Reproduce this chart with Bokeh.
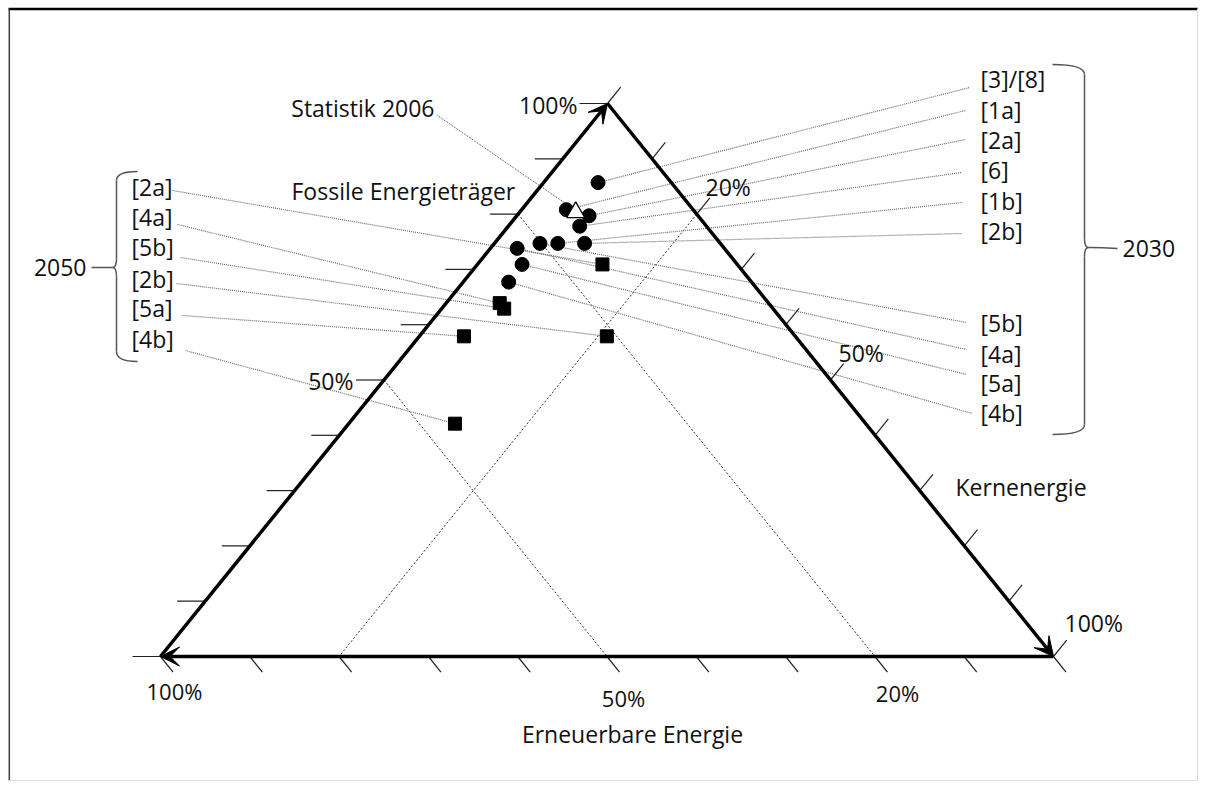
import numpy as np
from bokeh.plotting import figure
from bokeh.models import Range1d, Arrow, VeeHead, ColumnDataSource
from bokeh.embed import file_html
from bokeh.resources import INLINE
from bokeh.core.properties import value

# ---------------- data (shares in percent; renewable = 100 - fossil - nuclear) ----------------
labels_2030 = ["[3]/[8]", "[1a]", "[2a]", "[6]", "[1b]", "[2b]", "[5b]", "[4a]", "[5a]", "[4b]"]
fossil_2030 = [85.7, 80.8, 79.7, 77.8, 74.7, 74.7, 74.7, 73.8, 70.9, 67.7]
nuclear_2030 = [6.1, 5.0, 8.1, 8.0, 7.1, 10.1, 5.1, 3.0, 5.0, 5.1]

labels_2050 = ["[2a]", "[4a]", "[5b]", "[2b]", "[5a]", "[4b]"]
fossil_2050 = [70.9, 63.9, 62.9, 57.9, 57.9, 42.1]
nuclear_2050 = [14.0, 6.0, 7.0, 21.0, 5.0, 11.9]

label_2006 = "Statistik 2006"
fossil_2006 = [80.5]
nuclear_2006 = [6.2]

tick_values = list(range(0, 101, 10))
axis_titles = ["Fossile Energieträger", "Kernenergie", "Erneuerbare Energie"]
group_titles = ["2030", "2050"]
grid_nuclear = [20]
grid_renewable = [50, 20]
fossil_tick_labels = ["100%", "50%"]
nuclear_tick_labels = ["20%", "50%", "100%"]
renewable_tick_labels = ["100%", "50%", "20%"]

# ---------------- layout ----------------
W, H = 1198, 781
V_REN = np.array([160.0, 656.0])   # bottom left  (100 % renewable)
V_NUC = np.array([1053.0, 656.0])  # bottom right (100 % nuclear)
V_FOS = np.array([607.0, 103.0])   # apex         (100 % fossil)
FONT = value("Open Sans")
TXT = "#111111"


def tern(f, k):
    f = np.asarray(f, dtype=float) / 100.0
    k = np.asarray(k, dtype=float) / 100.0
    r = 1.0 - f - k
    x = r * V_REN[0] + k * V_NUC[0] + f * V_FOS[0]
    y = r * V_REN[1] + k * V_NUC[1] + f * V_FOS[1]
    return x, y


def unit(v):
    v = np.asarray(v, dtype=float)
    return v / np.hypot(*v)


p = figure(width=W, height=H, x_range=Range1d(0, W), y_range=Range1d(H, 0),
           output_backend="svg", toolbar_location=None, min_border=0)
p.axis.visible = False
p.grid.visible = False
p.outline_line_color = None
p.background_fill_color = "white"
p.border_fill_color = "white"

# frame
p.segment(x0=[8, 8.8, W - 1, 8], y0=[8.5, 8, 8, H - 1],
          x1=[W, 8.8, W - 1, W], y1=[8.5, H, H, H - 1],
          line_color=["black", "#404040", "#dddddd", "#dddddd"], line_width=[2.5, 1.5, 1, 1])

# dotted grid lines
gx0, gy0, gx1, gy1 = [], [], [], []
for k in grid_nuclear:
    a = tern(100 - k, k); b = tern(0, k)
    gx0.append(a[0]); gy0.append(a[1]); gx1.append(b[0]); gy1.append(b[1])
for r in grid_renewable:
    a = tern(100 - r, 0); b = tern(0, 100 - r)
    gx0.append(a[0]); gy0.append(a[1]); gx1.append(b[0]); gy1.append(b[1])
p.segment(x0=gx0, y0=gy0, x1=gx1, y1=gy1, line_color="#333333", line_width=1, line_dash="2 2")

# leader lines 2030 (right labels)
end_2030 = [(969, 87), (965, 110), (965, 139), (961, 172), (962, 202), (962, 233),
            (966, 322), (966, 349), (966, 374), (972, 413)]
x30, y30 = tern(fossil_2030, nuclear_2030)
p.segment(x0=x30, y0=y30, x1=[e[0] for e in end_2030], y1=[e[1] for e in end_2030],
          line_color="#6a6a6a", line_width=1.2, line_dash="1 1")

# leader lines 2050 (left labels)
start_2050 = [(172, 190), (177, 224), (180, 257), (176, 283), (182, 315), (185, 350)]
x50, y50 = tern(fossil_2050, nuclear_2050)
p.segment(x0=[s[0] for s in start_2050], y0=[s[1] for s in start_2050], x1=x50, y1=y50,
          line_color="#6a6a6a", line_width=1.2, line_dash="1 1")

# leader 2006
x06, y06 = tern(fossil_2006, nuclear_2006)
p.segment(x0=[437], y0=[115], x1=[x06[0] - 6], y1=[y06[0] - 5],
          line_color="#444444", line_width=1, line_dash="1 1")

# ticks
tx0, ty0, tx1, ty1 = [], [], [], []
d_nuc = unit(V_FOS - V_REN) * 21
d_ren = unit(V_NUC - V_FOS) * 20
for t in tick_values:
    x, y = tern(t, 0)            # fossil axis (left edge), horizontal ticks
    tx0.append(x - 28); ty0.append(y); tx1.append(x); ty1.append(y)
    x, y = tern(100 - t, t)      # nuclear axis (right edge)
    tx0.append(x); ty0.append(y); tx1.append(x + d_nuc[0]); ty1.append(y + d_nuc[1])
    x, y = tern(0, 100 - t)      # renewable axis (bottom edge)
    tx0.append(x); ty0.append(y); tx1.append(x + d_ren[0]); ty1.append(y + d_ren[1])
p.segment(x0=tx0, y0=ty0, x1=tx1, y1=ty1, line_color="#222222", line_width=1.2)

# triangle edges with arrow heads
edges = [(V_REN, V_FOS), (V_FOS, V_NUC), (V_NUC, V_REN)]
for a, b in edges:
    p.add_layout(Arrow(end=VeeHead(size=19, fill_color="black", line_color="black", line_width=1),
                       x_start=a[0], y_start=a[1], x_end=b[0], y_end=b[1],
                       line_color="black", line_width=3.5))

# markers
p.scatter(x30, y30, marker="circle", size=14, fill_color="black", line_color="black")
p.scatter(x50, y50, marker="square", size=13, fill_color="black", line_color="black")
p.scatter(x06, y06 + 1, marker="triangle", size=18, fill_color="white", line_color="black", line_width=1.3)

# braces
bc = "#555555"
# right brace (2030)
p.quadratic(x0=[1052, 1084, 1084, 1088, 1084], y0=[64, 238, 256, 247, 424],
            x1=[1084, 1088, 1088, 1117, 1052], y1=[74, 247, 247, 248, 434],
            cx=[1084, 1084, 1084, 1102, 1084], cy=[64, 247, 247, 247, 434],
            line_color=bc, line_width=1.5)
p.segment(x0=[1084, 1084], y0=[74, 256], x1=[1084, 1084], y1=[238, 424], line_color=bc, line_width=1.5)
# left brace (2050)
p.quadratic(x0=[137, 116, 116, 112, 137], y0=[171, 258, 276, 267, 361],
            x1=[116, 112, 112, 91, 116], y1=[180, 267, 267, 267, 351],
            cx=[116, 116, 116, 100, 116], cy=[171, 267, 267, 267, 361],
            line_color=bc, line_width=1.5)
p.segment(x0=[116, 116], y0=[180, 276], x1=[116, 116], y1=[258, 351], line_color=bc, line_width=1.5)

# ---------------- texts ----------------
def add_text(xs, ys, texts, align="left", size="23px", baseline="middle"):
    src = ColumnDataSource(dict(x=list(xs), y=list(ys), t=list(texts)))
    p.text(x="x", y="y", text="t", source=src, text_font=FONT, text_font_size=value(size),
           text_align=align, text_baseline=baseline, text_color=TXT)

lab_y_2030 = [78, 109, 139, 169, 200, 230, 322, 353, 382, 412]
add_text([980] * len(labels_2030), lab_y_2030, labels_2030)
lab_y_2050 = [186, 216, 246, 278, 307, 338]
add_text([131] * len(labels_2050), lab_y_2050, labels_2050)

add_text([1122], [248], [group_titles[0]])
add_text([86], [267], [group_titles[1]], align="right")

add_text([291], [190], [axis_titles[0]])
add_text([955], [486], [axis_titles[1]])
add_text([632], [733], [axis_titles[2]], align="center")
add_text([434], [107], [label_2006], align="right")

add_text([577, 353], [104, 380], fossil_tick_labels, align="right")
add_text([705, 838, 1064], [186, 352, 622], nuclear_tick_labels)
add_text([174, 623, 897], [690, 697, 692], renewable_tick_labels, align="center", size="22px")

open("out.html", "w").write(file_html(p, INLINE))
